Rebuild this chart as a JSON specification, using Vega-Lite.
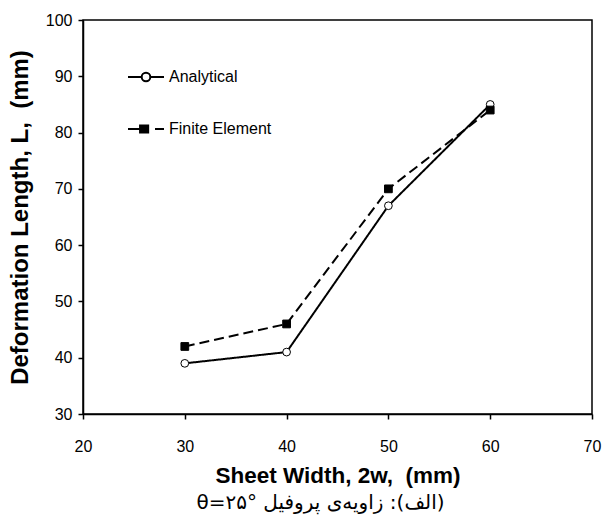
{
  "$schema": "https://vega.github.io/schema/vega-lite/v6.json",
  "width": 509,
  "height": 394,
  "autosize": "none",
  "padding": {"left": 83, "top": 20, "right": 11, "bottom": 103},
  "background": "white",
  "config": {
    "font": "Liberation Sans",
    "view": {"stroke": "black", "strokeWidth": 1.5},
    "axis": {
      "grid": false,
      "domainColor": "black",
      "domainWidth": 1.5,
      "tickColor": "black",
      "tickWidth": 1.5,
      "tickSize": 5,
      "labelColor": "black",
      "labelFont": "Liberation Sans",
      "labelFontSize": 16,
      "labelFlush": false,
      "titleColor": "black",
      "titleFont": "Liberation Sans",
      "titleFontWeight": "bold"
    }
  },
  "data": {
    "values": [
      {"w": 30, "L": 39, "series": "Analytical"},
      {"w": 40, "L": 41, "series": "Analytical"},
      {"w": 50, "L": 67, "series": "Analytical"},
      {"w": 60, "L": 85, "series": "Analytical"},
      {"w": 30, "L": 42, "series": "Finite Element"},
      {"w": 40, "L": 46, "series": "Finite Element"},
      {"w": 50, "L": 70, "series": "Finite Element"},
      {"w": 60, "L": 84, "series": "Finite Element"}
    ]
  },
  "title": {
    "text": "\u2066θ=۲۵°\u2069 \u2067(الف): زاویه‌ی پروفیل\u2069",
    "orient": "bottom",
    "anchor": "middle",
    "font": "DejaVu Sans",
    "fontSize": 20,
    "fontWeight": "normal",
    "color": "black",
    "offset": 6,
    "dx": -17
  },
  "layer": [
    {
      "mark": {"type": "line", "color": "black", "strokeWidth": 2},
      "encoding": {
        "x": {"field": "w", "type": "quantitative", "scale": {"domain": [20, 70], "nice": false}, "axis": {"values": [20, 30, 40, 50, 60, 70], "title": "Sheet Width, 2w,\u00a0\u00a0(mm)", "titleFontSize": 22.5, "labelPadding": 19, "titlePadding": 10}},
        "y": {"field": "L", "type": "quantitative", "scale": {"domain": [30, 100], "nice": false, "zero": false}, "axis": {"values": [30, 40, 50, 60, 70, 80, 90, 100], "title": "Deformation Length, L,\u00a0\u00a0(mm)", "titleFontSize": 24, "labelPadding": 6, "titlePadding": 13}},
        "detail": {"field": "series", "type": "nominal"},
        "strokeDash": {"condition": {"test": "datum.series === 'Finite Element'", "value": [10, 5]}, "value": [1, 0]}
      }
    },
    {
      "mark": {"type": "point", "filled": true, "stroke": "black", "strokeWidth": 1, "size": 60, "opacity": 1},
      "encoding": {
        "x": {"field": "w", "type": "quantitative"},
        "y": {"field": "L", "type": "quantitative"},
        "fill": {"condition": {"test": "datum.series === 'Analytical'", "value": "white"}, "value": "black"},
        "shape": {"condition": {"test": "datum.series === 'Analytical'", "value": "circle"}, "value": "square"}
      }
    },
    {
      "mark": {"type": "point", "filled": true, "stroke": "black", "strokeWidth": 2, "size": 1296, "opacity": 0},
      "encoding": {
        "x": {"field": "w", "type": "quantitative"},
        "y": {"field": "L", "type": "quantitative"},
        "fill": {"field": "series", "type": "nominal", "scale": {"domain": ["Analytical", "Finite Element"], "range": ["white", "black"]}},
        "shape": {
          "field": "series",
          "type": "nominal",
          "scale": {"domain": ["Analytical", "Finite Element"], "range": ["M-1,0H-0.24M0.24,0H1M-0.24,0A0.24,0.24,0,1,1,0.24,0A0.24,0.24,0,1,1,-0.24,0Z", "M-1,0H-0.33M-0.33,-0.2H0.12V0.2H-0.33ZM0.5,0H1"]},
          "legend": {
            "title": null,
            "orient": "none",
            "legendX": 44,
            "legendY": 38,
            "padding": 0,
            "rowPadding": 24,
            "labelFontSize": 16,
            "labelColor": "black",
            "labelFont": "Liberation Sans",
            "labelOffset": 4,
            "symbolSize": 1296,
            "symbolOpacity": 1,
            "symbolStrokeWidth": 2
          }
        }
      }
    }
  ]
}
